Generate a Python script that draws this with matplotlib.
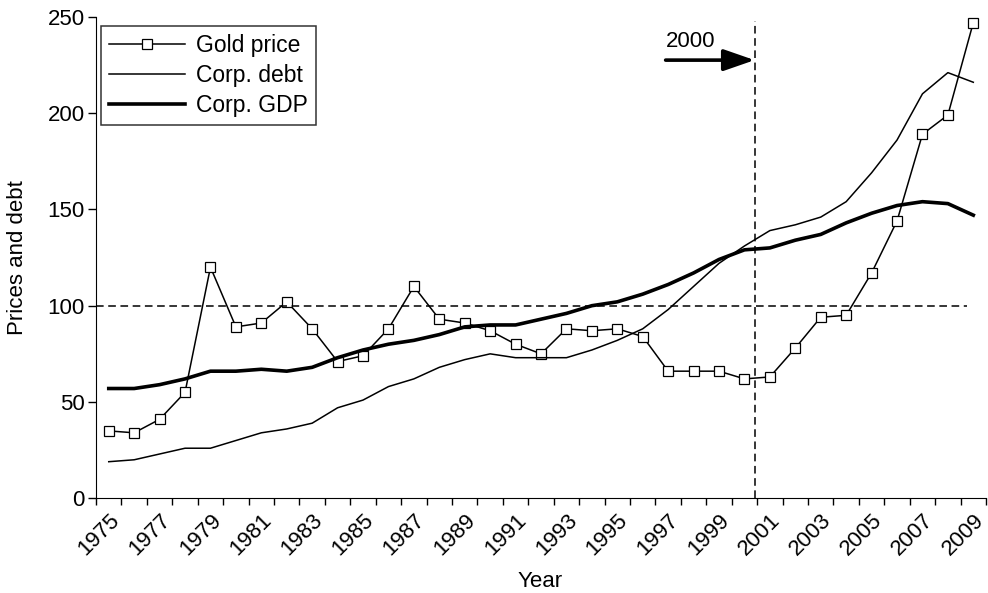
import numpy as np
import matplotlib
matplotlib.use("Agg")
import matplotlib.pyplot as plt

plt.rcParams['font.family'] = ['Liberation Sans', 'DejaVu Sans']

years = list(range(1975, 2010))
gold_price = [35, 34, 41, 55, 120, 89, 91, 102, 88, 71, 74, 88,
              110, 93, 91, 87, 80, 75, 88, 87, 88, 84, 66, 66,
              66, 62, 63, 78, 94, 95, 117, 144, 189, 199, 247]
corp_debt = [19, 20, 23, 26, 26, 30, 34, 36, 39, 47, 51, 58,
             62, 68, 72, 75, 73, 73, 73, 77, 82, 88, 98, 110,
             122, 131, 139, 142, 146, 154, 169, 186, 210, 221, 216]
corp_gdp = [57, 57, 59, 62, 66, 66, 67, 66, 68, 73, 77, 80,
            82, 85, 89, 90, 90, 93, 96, 100, 102, 106, 111, 117,
            124, 129, 130, 134, 137, 143, 148, 152, 154, 153, 147]
label_years = years[::2]
marker_year = 2000.4

fs = 16

fig = plt.figure(figsize=(9.88, 5.93), dpi=100)
ax = fig.add_axes([0.0972, 0.1597, 0.9008, 0.812])

ax.plot(years, gold_price, color='black', lw=1.1, marker='s', markersize=6.5,
        markerfacecolor='white', markeredgecolor='black', markeredgewidth=0.9,
        label='Gold price')
ax.plot(years, corp_debt, color='black', lw=1.1, label='Corp. debt')
ax.plot(years, corp_gdp, color='black', lw=2.6, solid_joinstyle='round',
        label='Corp. GDP')

# reference lines
ax.hlines(100, 1974.5, 2008.75, colors='black', lw=1.1, linestyles=(0, (5, 3)))
ax.vlines(marker_year, 0, 248, colors='black', lw=1.1, linestyles=(0, (5, 3)))

ax.annotate('', xy=(marker_year, 227.5), xytext=(1996.9, 227.5),
            arrowprops=dict(arrowstyle='-|>,head_length=0.95,head_width=0.33',
                            color='black', lw=2.6, mutation_scale=20,
                            shrinkA=0, shrinkB=0))
ax.text(1996.9, 231.5, '2000', fontsize=fs, ha='left', va='bottom')

ax.set_xlim(1974.5, 2009.5)
ax.set_ylim(0, 250)
ax.spines['top'].set_visible(False)
ax.spines['right'].set_visible(False)

ax.set_yticks([0, 50, 100, 150, 200, 250])
ax.tick_params(axis='y', direction='out', length=6, width=1, labelsize=fs, pad=2)
ax.set_xticks(label_years)
ax.set_xticklabels([str(y) for y in label_years], rotation=45, ha='right',
                   va='top', rotation_mode='anchor')
ax.set_xticks(np.arange(1974.5, 2010, 1), minor=True)
ax.tick_params(axis='x', which='major', length=0, labelsize=fs, pad=8)
ax.tick_params(axis='x', which='minor', direction='out', length=5, width=1)

ax.set_xlabel('Year', fontsize=fs)
ax.set_ylabel('Prices and debt', fontsize=fs)
ax.xaxis.set_label_coords(0.499, -0.15)
ax.yaxis.set_label_coords(-0.076, 0.5)

leg = ax.legend(loc='upper left', bbox_to_anchor=(0.0056, 0.981), fontsize=16.5,
                frameon=True, fancybox=False, borderaxespad=0, handlelength=3.3,
                labelspacing=0.3, borderpad=0.35, handletextpad=0.5)
leg.get_frame().set_edgecolor('black')
leg.get_frame().set_linewidth(1.1)

fig.savefig('out.png', dpi=100)
